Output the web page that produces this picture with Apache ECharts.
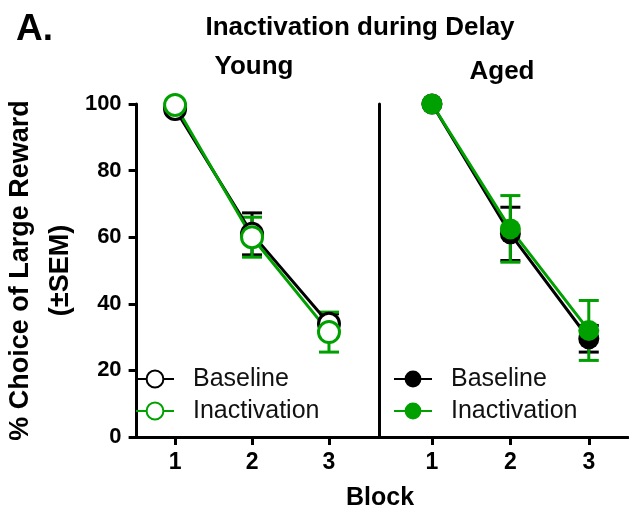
<!DOCTYPE html>
<html>
<head>
<meta charset="utf-8">
<script src="https://cdn.jsdelivr.net/npm/echarts@6/dist/echarts.min.js"></script>
<style>
  html, body { margin: 0; padding: 0; background: #fff; }
  #chart { width: 629px; height: 512px; }
</style>
</head>
<body>
<div id="chart"></div>
<script>
// values
var blocks = [1, 2, 3];
var youngBaseline = [98.5, 61, 34];
var youngBaselineSem = [0.8, 6.3, 3];
var youngInact = [99.7, 60, 31.5];
var youngInactSem = [0.3, 6, 6];
var agedBaseline = [100, 61, 29.5];
var agedBaselineSem = [0, 8, 4];
var agedInact = [100, 62.5, 32];
var agedInactSem = [0, 10, 9];

var GREEN = '#00a000';
var BLACK = '#000000';
var FONT = '"Liberation Sans", Arial, sans-serif';

function pairs(vals) {
  return blocks.map(function (b, i) { return [b, vals[i]]; });
}
function errPairs(vals, sems) {
  return blocks.map(function (b, i) { return [b, vals[i] - sems[i], vals[i] + sems[i]]; });
}

function lineSeries(name, gi, vals, color, open) {
  return {
    name: name,
    type: 'line',
    xAxisIndex: gi,
    yAxisIndex: gi,
    data: pairs(vals),
    symbol: 'circle',
    symbolSize: 21,
    z: 4,
    lineStyle: { color: color, width: 3 },
    itemStyle: open
      ? { color: '#fff', borderColor: color, borderWidth: 3 }
      : { color: color, borderColor: color, borderWidth: 0 }
  };
}

function errSeries(gi, vals, sems, color) {
  return {
    type: 'custom',
    xAxisIndex: gi,
    yAxisIndex: gi,
    z: 3,
    silent: true,
    data: errPairs(vals, sems),
    renderItem: function (params, api) {
      var top = api.coord([api.value(0), api.value(2)]);
      var bot = api.coord([api.value(0), api.value(1)]);
      var hw = 10;
      var st = { stroke: color, lineWidth: 3 };
      return {
        type: 'group',
        children: [
          { type: 'line', shape: { x1: top[0], y1: top[1], x2: bot[0], y2: bot[1] }, style: st },
          { type: 'line', shape: { x1: top[0] - hw, y1: top[1], x2: top[0] + hw, y2: top[1] }, style: st },
          { type: 'line', shape: { x1: bot[0] - hw, y1: bot[1], x2: bot[0] + hw, y2: bot[1] }, style: st }
        ]
      };
    }
  };
}

function xAxisCfg(gi, min, max) {
  return {
    type: 'value',
    gridIndex: gi,
    min: min,
    max: max,
    axisLine: { onZero: false, lineStyle: { color: BLACK, width: 3 } },
    axisTick: { show: true, customValues: blocks, length: 8, lineStyle: { color: BLACK, width: 3 } },
    axisLabel: {
      customValues: blocks, margin: 14,
      fontFamily: FONT, fontSize: 23, fontWeight: 'bold', color: BLACK
    },
    splitLine: { show: false }
  };
}

function legendCfg(left, names) {
  return {
    orient: 'vertical',
    left: left,
    top: 365,
    padding: 0,
    itemWidth: 38,
    itemHeight: 21,
    itemGap: 4,
    data: names,
    formatter: function (n) { return n.split(' ')[1]; },
    textStyle: {
      fontFamily: FONT, fontSize: 25, color: '#111', lineHeight: 28,
      padding: [0, 0, 0, 14]
    }
  };
}

var titleStyle = { fontFamily: FONT, fontWeight: 'bold', color: BLACK };

var option = {
  animation: false,
  backgroundColor: '#fff',
  title: [
    { text: 'A.', left: 16, top: 11, padding: 0, textStyle: Object.assign({ fontSize: 37 }, titleStyle) },
    { text: 'Inactivation during Delay', left: 360, top: 15, padding: 0, textAlign: 'center',
      textStyle: Object.assign({ fontSize: 26 }, titleStyle) },
    { text: 'Young', left: 254, top: 54, padding: 0, textAlign: 'center',
      textStyle: Object.assign({ fontSize: 26 }, titleStyle) },
    { text: 'Aged', left: 502, top: 59, padding: 0, textAlign: 'center',
      textStyle: Object.assign({ fontSize: 26 }, titleStyle) },
    { text: 'Block', left: 380, top: 486, padding: 0, textAlign: 'center',
      textStyle: Object.assign({ fontSize: 25 }, titleStyle) }
  ],
  legend: [
    legendCfg(135, ['Young Baseline', 'Young Inactivation']),
    legendCfg(393, ['Aged Baseline', 'Aged Inactivation'])
  ],
  grid: [
    { left: 130, right: 250, top: 104, bottom: 75 },
    { left: 379, right: 1, top: 104, bottom: 75 }
  ],
  xAxis: [
    xAxisCfg(0, 0.5, 3.65),
    xAxisCfg(1, 0.325, 3.5)
  ],
  yAxis: [
    {
      type: 'value',
      gridIndex: 0,
      min: 0,
      max: 100,
      interval: 20,
      name: '% Choice of Large Reward\n(±SEM)',
      nameLocation: 'middle',
      nameGap: 40,
      nameTextStyle: { fontFamily: FONT, fontSize: 27, fontWeight: 'bold', color: BLACK, lineHeight: 40 },
      axisLine: { show: true, lineStyle: { color: BLACK, width: 3 } },
      axisTick: { show: true, length: 8, lineStyle: { color: BLACK, width: 3 } },
      axisLabel: { margin: 15, fontFamily: FONT, fontSize: 22, fontWeight: 'bold', color: BLACK },
      splitLine: { show: false }
    },
    {
      type: 'value',
      gridIndex: 1,
      min: 0,
      max: 100,
      interval: 20,
      axisLine: { show: true, lineStyle: { color: BLACK, width: 3 } },
      axisTick: { show: false },
      axisLabel: { show: false },
      splitLine: { show: false }
    }
  ],
  series: [
    errSeries(0, youngBaseline, youngBaselineSem, BLACK),
    errSeries(0, youngInact, youngInactSem, GREEN),
    lineSeries('Young Baseline', 0, youngBaseline, BLACK, true),
    lineSeries('Young Inactivation', 0, youngInact, GREEN, true),
    errSeries(1, agedBaseline, agedBaselineSem, BLACK),
    errSeries(1, agedInact, agedInactSem, GREEN),
    lineSeries('Aged Baseline', 1, agedBaseline, BLACK, false),
    lineSeries('Aged Inactivation', 1, agedInact, GREEN, false)
  ]
};

var myChart = echarts.init(document.getElementById('chart'));
myChart.setOption(option);
</script>
</body>
</html>
